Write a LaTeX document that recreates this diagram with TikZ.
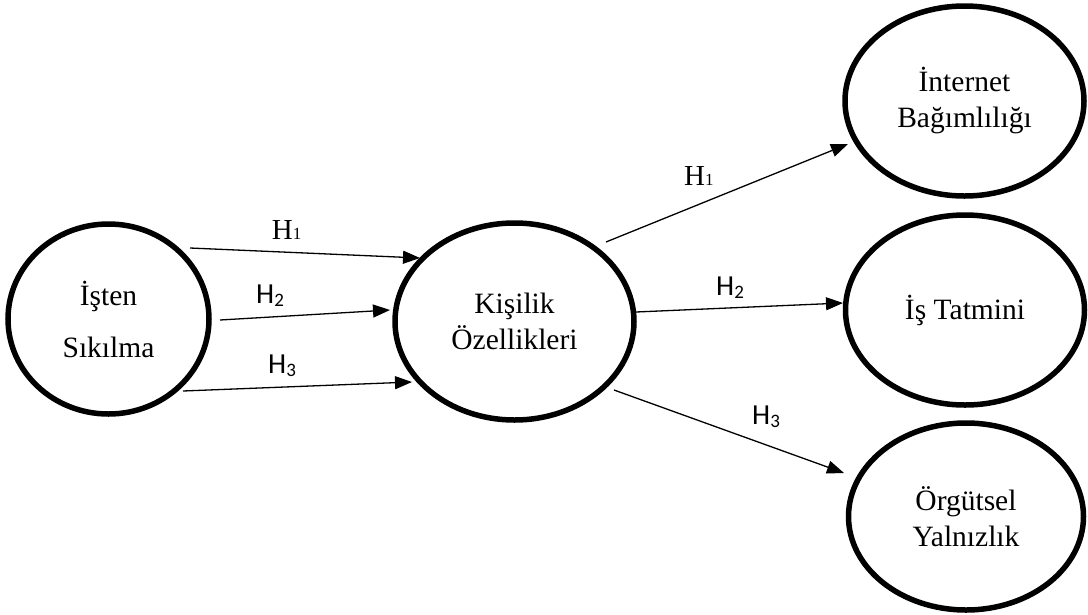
\documentclass[tikz,border=0pt]{standalone}
\usepackage{fontspec}
\setmainfont{Liberation Serif}
\newfontfamily\hsans{Carlito}
\usetikzlibrary{arrows.meta,shapes.geometric,calc}
\begin{document}
\begin{tikzpicture}[x=1pt,y=-1pt,
  var/.style={draw=black, line width=5.5pt, ellipse, inner sep=0pt, outer sep=0pt, align=center, font=\fontsize{29.5}{36}\selectfont},
  rvar/.style={var, minimum width=239pt, minimum height=190pt},
  arr/.style={line width=1.3pt, -{Triangle[length=17pt,width=13pt]}},
  hyp/.style={anchor=base west, inner sep=0pt, font=\fontsize{29}{30}\selectfont},
  hyps/.style={anchor=base west, inner sep=0pt, font=\hsans\fontsize{29}{30}\selectfont}]
\path[use as bounding box] (0,0) rectangle (1088,614);
\node[var, minimum width=201pt, minimum height=190pt, font=\fontsize{29.5}{52}\selectfont] (A) at (108.5,319) {İşten\\Sıkılma};
\node[var, minimum width=239pt, minimum height=197pt] (B) at (514.5,321.5) {Kişilik\\Özellikleri};
\node[rvar] (C) at (964.5,101) {\raisebox{0pt}[\height][\depth]{}İnternet\\Bağımlılığı};
\node[rvar] (D) at (965,310) {İş Tatmini};
\node[rvar, minimum width=235pt, minimum height=187pt] (E) at (966,516.5) {Örgütsel\\Yalnızlık};
% connectors
\draw[arr] ($(A)+(81.5,-71)$) -- ($(B)+(-94.5,-63.5)$);
\draw[arr] ($(A)+(111.5,1)$) -- ($(B)+(-124.5,-11.5)$);
\draw[arr] ($(A)+(74.5,72)$) -- ($(B)+(-102.5,60.5)$);
\draw[arr] ($(B)+(91.5,-79.5)$) -- ($(C)+(-116.5,43)$);
\draw[arr] ($(B)+(121.5,-9.5)$) -- ($(D)+(-122,-7)$);
\draw[arr] ($(B)+(99.5,68.5)$) -- ($(E)+(-122,-43.5)$);
% labels
\node[hyp] (l1) at (271.7,239) {H{\fontsize{17}{17}\selectfont 1}};
\node[hyps] (l2) at (256,303) {H\raisebox{-3pt}{\fontsize{19}{19}\selectfont 2}};
\node[hyps] (l3) at (268,373) {H\raisebox{-3pt}{\fontsize{19}{19}\selectfont 3}};
\node[hyp] (r1) at (684,185) {H{\fontsize{17}{17}\selectfont 1}};
\node[hyps] (r2) at (716,295) {H\raisebox{-3pt}{\fontsize{19}{19}\selectfont 2}};
\node[hyps] (r3) at (752,424) {H\raisebox{-3pt}{\fontsize{19}{19}\selectfont 3}};
\end{tikzpicture}
\end{document}
